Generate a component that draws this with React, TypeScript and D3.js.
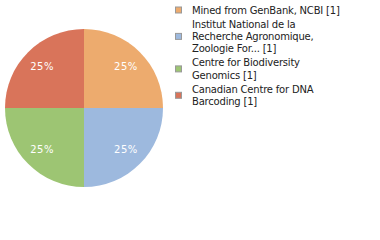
import React from "react";
import * as d3 from "d3";

const categories = [
  "Mined from GenBank, NCBI [1]",
  "Institut National de la Recherche Agronomique, Zoologie For... [1]",
  "Centre for Biodiversity Genomics [1]",
  "Canadian Centre for DNA Barcoding [1]",
];
const legendLines = [
  ["Mined from GenBank, NCBI [1]"],
  ["Institut National de la", "Recherche Agronomique,", "Zoologie For... [1]"],
  ["Centre for Biodiversity", "Genomics [1]"],
  ["Canadian Centre for DNA", "Barcoding [1]"],
];
const values = [1, 1, 1, 1];
const colors = ["#EDAB6E", "#9DB9DE", "#9DC573", "#D9745A"];

export default function App() {
  const cx = 84, cy = 108, r = 79;
  const pie = d3.pie<number>().sort(null).value((d) => d);
  const arcs = pie(values);
  const arc = d3.arc<d3.PieArcDatum<number>>().innerRadius(0).outerRadius(r);
  const labelArc = d3.arc<d3.PieArcDatum<number>>().innerRadius(r * 0.75).outerRadius(r * 0.75);
  const total = d3.sum(values);
  const font = "DejaVu Sans, sans-serif";
  const lineH = 12.2;
  const gap = 14.2;

  let y = 13.5;
  const items = legendLines.map((lines, i) => {
    const top = y;
    y += (lines.length - 1) * lineH + gap;
    return { lines, top, i };
  });

  return (
    <svg width={380} height={240} style={{ position: "absolute", left: 0, top: 0 }}>
      <rect width={380} height={240} fill="#fff" />
      <g transform={`translate(${cx},${cy})`}>
        {arcs.map((a, i) => (
          <path key={i} d={arc(a) || ""} fill={colors[i]} />
        ))}
        {arcs.map((a, i) => {
          const [lx, ly] = labelArc.centroid(a);
          return (
            <text key={i} x={lx} y={ly} dy="0.35em" textAnchor="middle" fill="#fff"
              fontFamily={font} fontSize={10} letterSpacing={0.5}>
              {Math.round((a.data / total) * 100)}%
            </text>
          );
        })}
      </g>
      {items.map(({ lines, top, i }) => {
        const mid = top + ((lines.length - 1) * lineH) / 2 - 3.5;
        return (
          <g key={i}>
            <rect x={175.5} y={mid - 3} width={6} height={6} fill={colors[i]} stroke="#999" strokeWidth={1} />
            {lines.map((l, j) => (
              <text key={j} x={192} y={top + j * lineH} fontFamily={font} fontSize={10}
                letterSpacing={-0.2} fill="#222">
                {l}
              </text>
            ))}
          </g>
        );
      })}
    </svg>
  );
}
